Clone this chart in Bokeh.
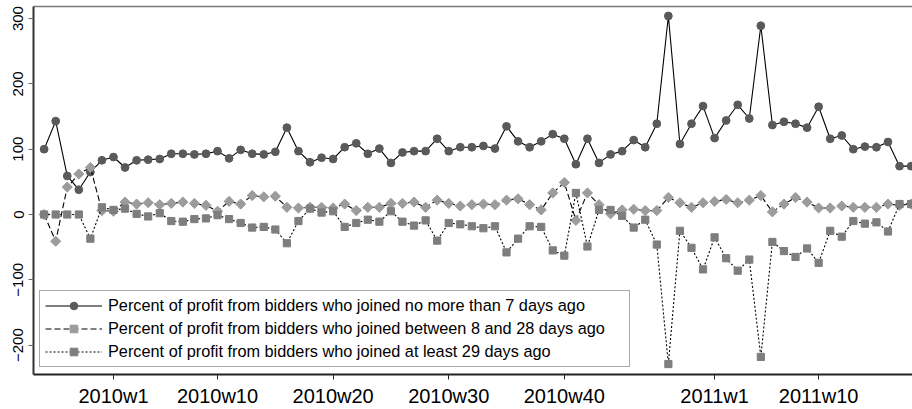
from bokeh.plotting import figure
from bokeh.models import (FixedTicker, Legend, LegendItem, LinearAxis, Range1d)
from bokeh.embed import file_html
from bokeh.resources import INLINE
import math

# ---- data ----
start_year, start_week, n_weeks = 2009, 47, 76
weeks = []
y, w = start_year, start_week
for _ in range(n_weeks):
    weeks.append(f"{y}w{w}")
    w += 1
    if w > 52:
        y, w = y + 1, 1

joined_0_7 = [100, 143, 59, 38, 65, 83, 88, 72, 83, 84, 85, 93, 93, 92, 93, 97, 86, 99, 93, 92,
              96, 133, 97, 80, 87, 85, 103, 109, 93, 101, 79, 95, 97, 97, 116, 97, 103, 103, 105, 101,
              135, 112, 103, 112, 123, 116, 77, 116, 79, 92, 97, 114, 103, 139, 304, 108, 139, 166, 117, 144,
              168, 147, 289, 137, 142, 139, 133, 165, 116, 121, 100, 104, 103, 111, 74, 74]
joined_8_28 = [0, -41, 42, 62, 72, 6, 5, 19, 16, 18, 15, 17, 19, 17, 14, 5, 20, 16, 29, 27,
               28, 11, 10, 11, 11, 10, 16, 6, 11, 11, 17, 17, 19, 11, 22, 17, 13, 15, 16, 15,
               22, 24, 15, 7, 33, 49, -9, 33, 15, 1, 7, 8, 6, 6, 26, 18, 11, 18, 20, 23,
               18, 22, 29, 4, 16, 26, 19, 10, 10, 13, 11, 11, 11, 16, 14, 16]
joined_29plus = [0, 0, 0, 0, -37, 11, 7, 9, 1, -3, 2, -10, -11, -7, -6, -1, -7, -13, -20, -19,
                 -23, -44, -10, 9, 3, 5, -19, -13, -8, -11, 5, -11, -17, -9, -40, -13, -15, -18, -21, -18,
                 -58, -37, -18, -19, -55, -63, 33, -49, 7, 7, -2, -20, -8, -46, -229, -25, -51, -84, -35, -67,
                 -86, -69, -218, -42, -56, -65, -52, -74, -25, -34, -10, -14, -12, -26, 16, 16]

tick_labels = ["2010w1", "2010w10", "2010w20", "2010w30", "2010w40", "2011w1", "2011w10"]
y_ticks = [-200, -100, 0, 100, 200, 300]

labels = ["Percent of profit from bidders who joined no more than 7 days ago",
          "Percent of profit from bidders who joined between 8 and 28 days ago",
          "Percent of profit from bidders who joined at least 29 days ago"]


def week_index(s):
    yy, ww = s.split("w")
    return (int(yy) - 2010) * 52 + int(ww) - 1


x = [week_index(s) for s in weeks]
tick_pos = [week_index(s) for s in tick_labels]

FONT = "Liberation Sans"

p = figure(width=912, height=409, output_backend="svg", toolbar_location=None,
           x_range=Range1d(-6.92, 69.12), y_range=Range1d(-245, 318.5),
           min_border_left=33, min_border_right=0, min_border_top=6, min_border_bottom=35)
p.outline_line_color = None
p.xgrid.visible = False
p.ygrid.visible = False
p.background_fill_color = "white"

# axes
p.xaxis.ticker = FixedTicker(ticks=tick_pos)
p.xaxis.major_label_overrides = {t: l for t, l in zip(tick_pos, tick_labels)}
p.xaxis.minor_tick_line_color = None
p.xaxis.major_tick_out = 5
p.xaxis.major_tick_in = 0
p.xaxis.major_label_standoff = 5
p.xaxis.major_label_text_font = FONT
p.xaxis.major_label_text_font_size = "20px"
p.xaxis.major_label_text_color = "black"
p.xaxis.axis_line_width = 2
p.xaxis.axis_line_color = "#222222"
p.xaxis.major_tick_line_color = "#222222"

p.yaxis.ticker = FixedTicker(ticks=y_ticks)
p.yaxis.minor_tick_line_color = None
p.yaxis.major_tick_out = 5
p.yaxis.major_tick_in = 0
p.yaxis.major_label_standoff = 5
p.yaxis.major_label_orientation = "vertical"
p.yaxis.major_label_text_font = FONT
p.yaxis.major_label_text_font_size = "15px"
p.yaxis.major_label_text_color = "black"
p.yaxis.axis_line_width = 2
p.yaxis.axis_line_color = "#333333"
p.yaxis.major_tick_line_color = "#666666"

top = LinearAxis(ticker=FixedTicker(ticks=[]), axis_line_color="#7a7a7a", axis_line_width=1.5,
                 major_tick_line_color=None, minor_tick_line_color=None,
                 major_tick_out=0, minor_tick_out=0, major_label_standoff=0,
                 major_label_text_font_size="0px")
p.add_layout(top, "above")

r1l = p.line(x, joined_0_7, line_color="black", line_width=1.1)
r1m = p.scatter(x, joined_0_7, marker="circle", size=7.8, fill_color="#5a5a5a", line_color="#5a5a5a")
r2l = p.line(x, joined_8_28, line_color="black", line_width=1.1, line_dash="6 3")
r2m = p.scatter(x, joined_8_28, marker="square", angle=math.pi / 4, size=7.2,
                fill_color="#9c9c9c", line_color="#9c9c9c")
r3l = p.line(x, joined_29plus, line_color="black", line_width=1.1, line_dash="2 2")
r3m = p.scatter(x, joined_29plus, marker="square", size=7.2, fill_color="#7e7e7e", line_color="#7e7e7e")

legend = Legend(items=[LegendItem(label=labels[0], renderers=[r1l, r1m]),
                       LegendItem(label=labels[1], renderers=[r2l, r2m]),
                       LegendItem(label=labels[2], renderers=[r3l, r3m])],
                location=(6, 7), glyph_width=57, glyph_height=19, label_height=19,
                label_width=516, label_standoff=6, spacing=4, padding=5, margin=0,
                label_text_font=FONT, label_text_font_size="16.3px", label_text_color="black",
                border_line_color="#555555", border_line_width=1.5,
                background_fill_color="white", background_fill_alpha=1)
p.add_layout(legend, "center")

open("out.html", "w").write(file_html(p, INLINE))
